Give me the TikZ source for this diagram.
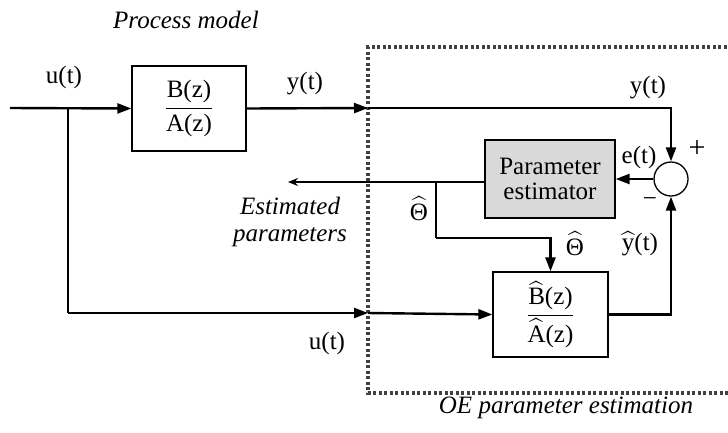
\documentclass[tikz,border=0pt]{standalone}
\usepackage{amsmath}
\usepackage{fontspec}
\setmainfont{Liberation Serif}
\usepackage{tikz}
\usetikzlibrary{
  arrows.meta,
  positioning,
  calc
}
\tikzset{
  arrow/.style    = {-{Triangle[length=14pt, width=10pt]}, line width=2.4pt},
  thinarrow/.style = {-{Stealth[length=10pt, width=8pt]}, line width=1.3pt},
  sigline/.style  = {line width=2.4pt},
  block/.style    = {draw, line width=1.3pt, align=center, inner sep=0pt},
  estblock/.style = {draw, line width=1.3pt, fill=gray!30, align=center,
                     inner sep=0pt},
  sumnode/.style  = {draw, circle, line width=1.3pt, minimum size=34pt,
                     inner sep=0pt},
  oebox/.style    = {line width=3.5pt, black!75,
                     dash pattern=on 3pt off 2.5pt},
  lbl/.style      = {inner sep=0pt},
  ilbl/.style     = {inner sep=0pt, font=\fontsize{25}{29}\selectfont\itshape,
                     align=center},
}

\begin{document}
\begin{tikzpicture}[x=1pt, y=-1pt, every node/.style={font=\fontsize{25}{29}\selectfont}]
    \useasboundingbox (0,0) rectangle (728,432);

    % --- OE PARAMETER ESTIMATION BOX ---
    \draw[oebox] (732,47) -- (368,47) -- (368,393) -- (732,393);

    % --- BLOCKS ---
    \node[block, minimum width=114pt, minimum height=85pt] (proc) at (189,108.5)
        {$\dfrac{\text{B(z)}}{\text{A(z)}}$};
    \node[estblock, minimum width=130pt, minimum height=78pt] (est) at (550,179)
        {Parameter\\[-4pt]estimator};
    \node[block, minimum width=115pt, minimum height=85pt] (model) at (550.5,314.5)
        {$\dfrac{\widehat{\text{B}}\text{(z)}}{\widehat{\text{A}}\text{(z)}}$};
    \node[sumnode] (sum) at (671,179) {};

    % --- COORDINATES ---
    \coordinate (uin)    at (10,108);
    \coordinate (ubr)    at (68,108);
    \coordinate (ucorner) at (68,313);
    \coordinate (ucross) at (368,313);
    \coordinate (ycross) at (368,108);
    \coordinate (parout) at (288,182);
    \coordinate (thbr)   at (436,182);
    \coordinate (thturn) at (436,238);

    % --- SIGNAL LINES ---
    \draw[arrow] (uin) -- (proc.west);
    \draw[sigline] (ubr) -- (ucorner);
    \draw[arrow] (ucorner) -- (ucross);
    \draw[arrow] (ucross) -- (model.west);
    \draw[arrow] (proc.east) -- (ycross);
    \draw[arrow] (ycross) -| (sum.north);
    \draw[arrow] (sum.west) -- (est.east);
    \draw[thinarrow] (est.west |- parout) -- (parout);
    \draw[sigline] (thbr) -- (thturn);
    \draw[arrow] (thturn) -| (model.north);
    \draw[arrow] (model.east) -| (sum.south);

    % --- LABELS ---
    \node[lbl] (lu1) at (64,77) {u(t)};
    \node[lbl] (ly1) at (305,84) {y(t)};
    \node[lbl] (ly2) at (648,88) {y(t)};
    \node[lbl, font=\fontsize{30}{30}\selectfont] (lplus) at (697,149) {+};
    \node[lbl] (lminus) at (650,202) {−};
    \node[lbl] (le) at (639,157) {e(t)};
    \node[lbl] (lth1) at (419,209) {$\widehat{\text{Θ}}$};
    \node[lbl] (lth2) at (575,244) {$\widehat{\text{Θ}}$};
    \node[lbl] (lyh) at (640,244) {$\widehat{\text{y}}$(t)};
    \node[lbl] (lu2) at (327,343) {u(t)};
    \node[ilbl] (lpar) at (290,222) {Estimated\\[-2pt]parameters};
    \node[ilbl] (lproc) at (186,20) {Process model};
    \node[ilbl] (loe) at (566,408) {OE parameter estimation};

\end{tikzpicture}
\end{document}
